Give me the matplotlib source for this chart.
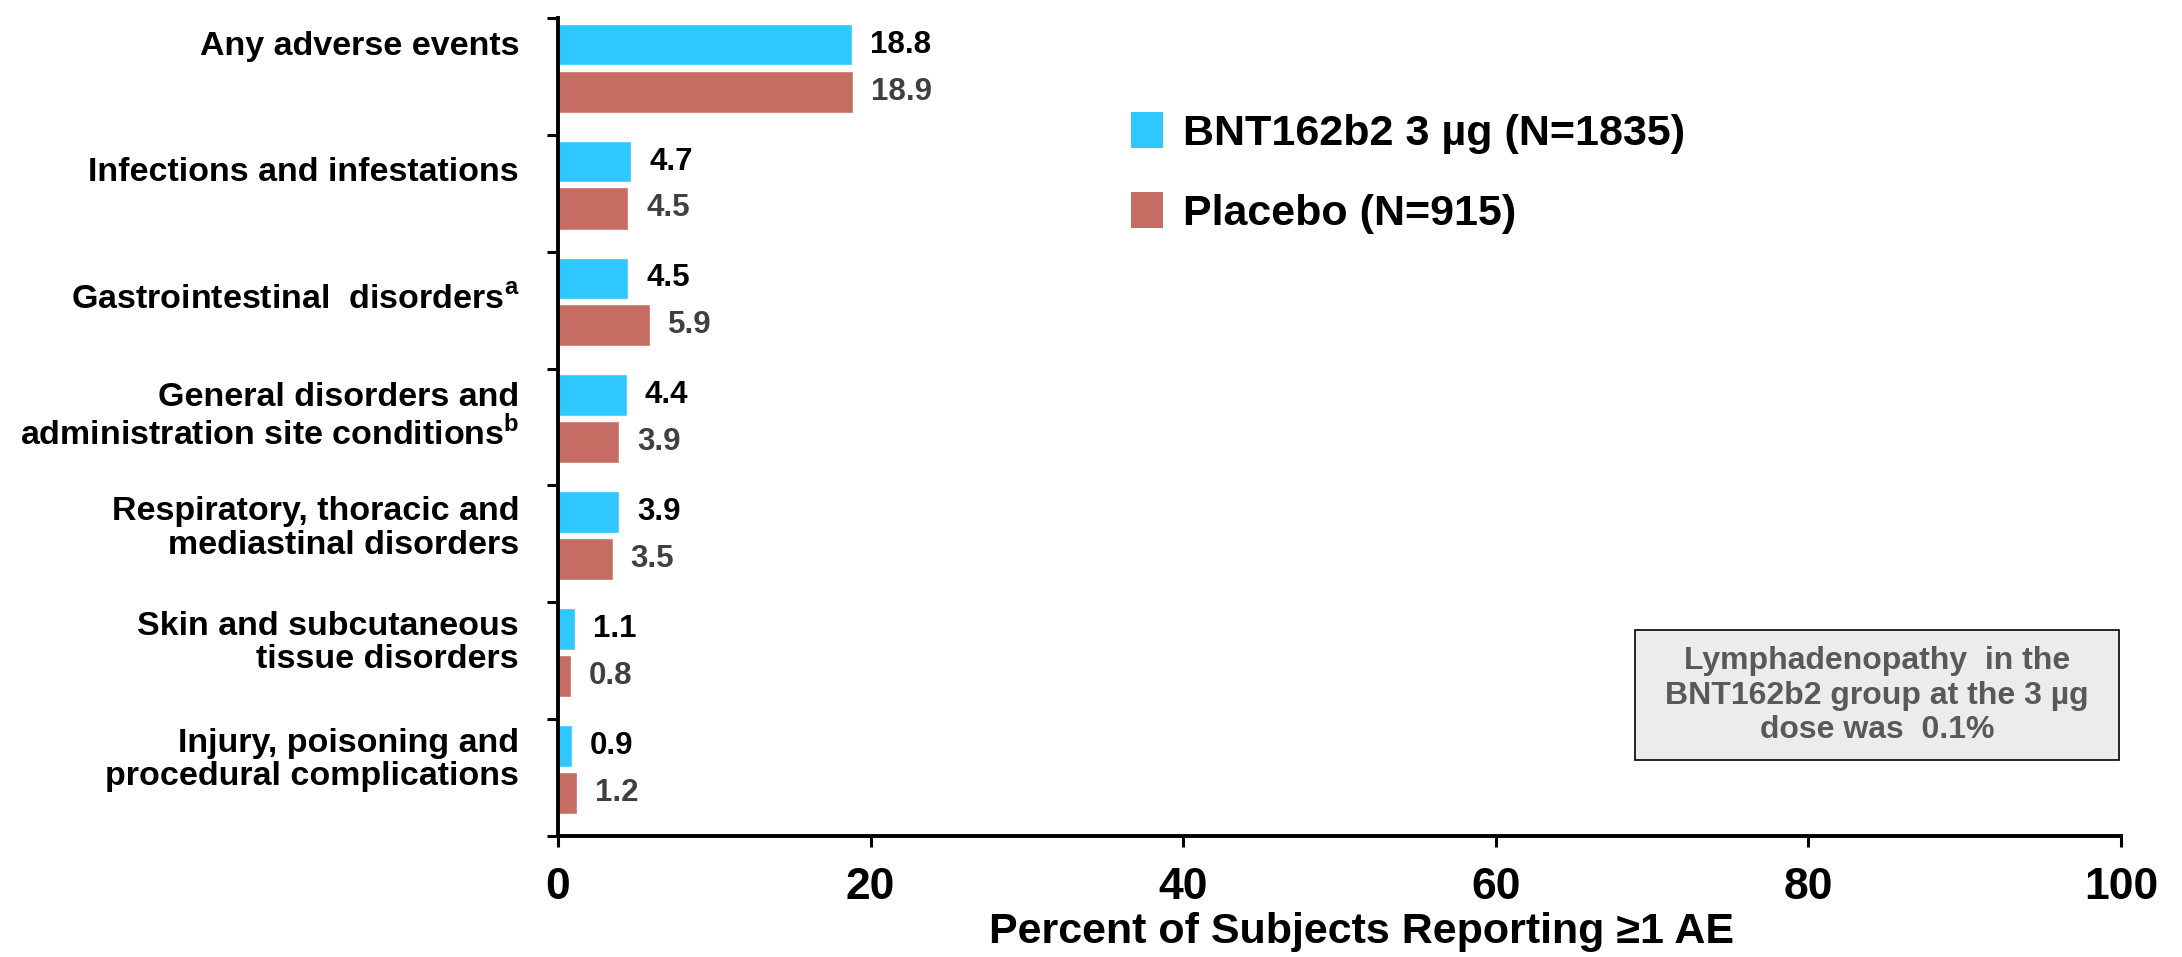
import numpy as np
import matplotlib.pyplot as plt
from matplotlib.patches import Patch, Rectangle

plt.rcParams['font.family'] = ['Liberation Sans', 'DejaVu Sans']
plt.rcParams['font.weight'] = 'bold'
plt.rcParams['mathtext.fontset'] = 'custom'
plt.rcParams['mathtext.rm'] = 'Liberation Sans:bold'
plt.rcParams['mathtext.bf'] = 'Liberation Sans:bold'

# data
categories = ["Any adverse events",
              "Infections and infestations",
              r"Gastrointestinal  disorders$^\mathbf{a}$",
              "General disorders and\n" + r"administration site conditions$^\mathbf{b}$",
              "Respiratory, thoracic and\nmediastinal disorders",
              "Skin and subcutaneous\ntissue disorders",
              "Injury, poisoning and\nprocedural complications"]
bnt = [18.8, 4.7, 4.5, 4.4, 3.9, 1.1, 0.9]
placebo = [18.9, 4.5, 5.9, 3.9, 3.5, 0.8, 1.2]
series_names = ["BNT162b2 3 \u00b5g (N=1835)", "Placebo (N=915)"]
xticks = [0, 20, 40, 60, 80, 100]

blue = '#2ec8ff'
red = '#c56c63'

fig = plt.figure(figsize=(21.82, 9.57), dpi=100)
ax = fig.add_axes([558/2182, 1-836/957, 1563/2182, 818/957])

idx = np.arange(len(categories))
ax.barh(idx + 0.228, bnt, height=0.355, color=blue, edgecolor='white', linewidth=1)
ax.barh(idx + 0.63, placebo, height=0.36, color=red, edgecolor='white', linewidth=1)

for i in idx:
    ax.annotate(f"{bnt[i]:.1f}", (bnt[i], i + 0.228), xytext=(13, 0), textcoords='offset points',
                va='center', ha='left', fontsize=22.5, color='black', fontweight='bold')
    ax.annotate(f"{placebo[i]:.1f}", (placebo[i], i + 0.63), xytext=(13, 0), textcoords='offset points',
                va='center', ha='left', fontsize=22.5, color='#404040', fontweight='bold')

ax.set_xlim(0, 100)
ax.set_ylim(len(categories), 0)
ax.set_xticks(xticks)
ax.set_xticklabels([str(t) for t in xticks], fontsize=32, fontweight='bold')
ax.set_yticks(np.arange(len(categories) + 1))
ax.set_yticklabels([])
label_pos = [0.21, 1.29, 2.38, 3.37, 4.33, 5.31, 6.31]
ax.set_yticks(label_pos, minor=True)
ax.set_yticklabels(categories, minor=True, fontsize=24.5, fontweight='bold', linespacing=1.1)
ax.tick_params(axis='y', which='minor', length=0, pad=28)
ax.tick_params(axis='both', which='major', direction='out', length=8, width=2.2, color='black')
ax.tick_params(axis='x', pad=14)
ax.set_xlabel("Percent of Subjects Reporting \u22651 AE", fontsize=31, fontweight='bold')
ax.xaxis.set_label_coords(0.514, -0.093)

for s in ['top', 'right']:
    ax.spines[s].set_visible(False)
for s in ['left', 'bottom']:
    ax.spines[s].set_linewidth(2.8)

handles = [Patch(facecolor=blue), Patch(facecolor=red)]
ax.legend(handles, series_names, loc='upper left', bbox_to_anchor=(1131/2182, 1-112/957),
          bbox_transform=fig.transFigure, frameon=False,
          handlelength=0.75, handleheight=0.9, handletextpad=0.45, labelspacing=0.9,
          borderpad=0, borderaxespad=0, prop={'size': 31, 'weight': 'bold'})

# note box
ax.add_patch(Rectangle((68.9, 5.24), 31.0, 1.11, facecolor='#ececec', edgecolor='black',
                       linewidth=1.2, zorder=3))
ax.text(84.4, 5.8, "Lymphadenopathy  in the\nBNT162b2 group at the 3 \u00b5g\ndose was  0.1%",
        ha='center', va='center', fontsize=23, fontweight='bold', color='#595959',
        linespacing=1.2, zorder=4)

fig.savefig('out.png', dpi=100)
